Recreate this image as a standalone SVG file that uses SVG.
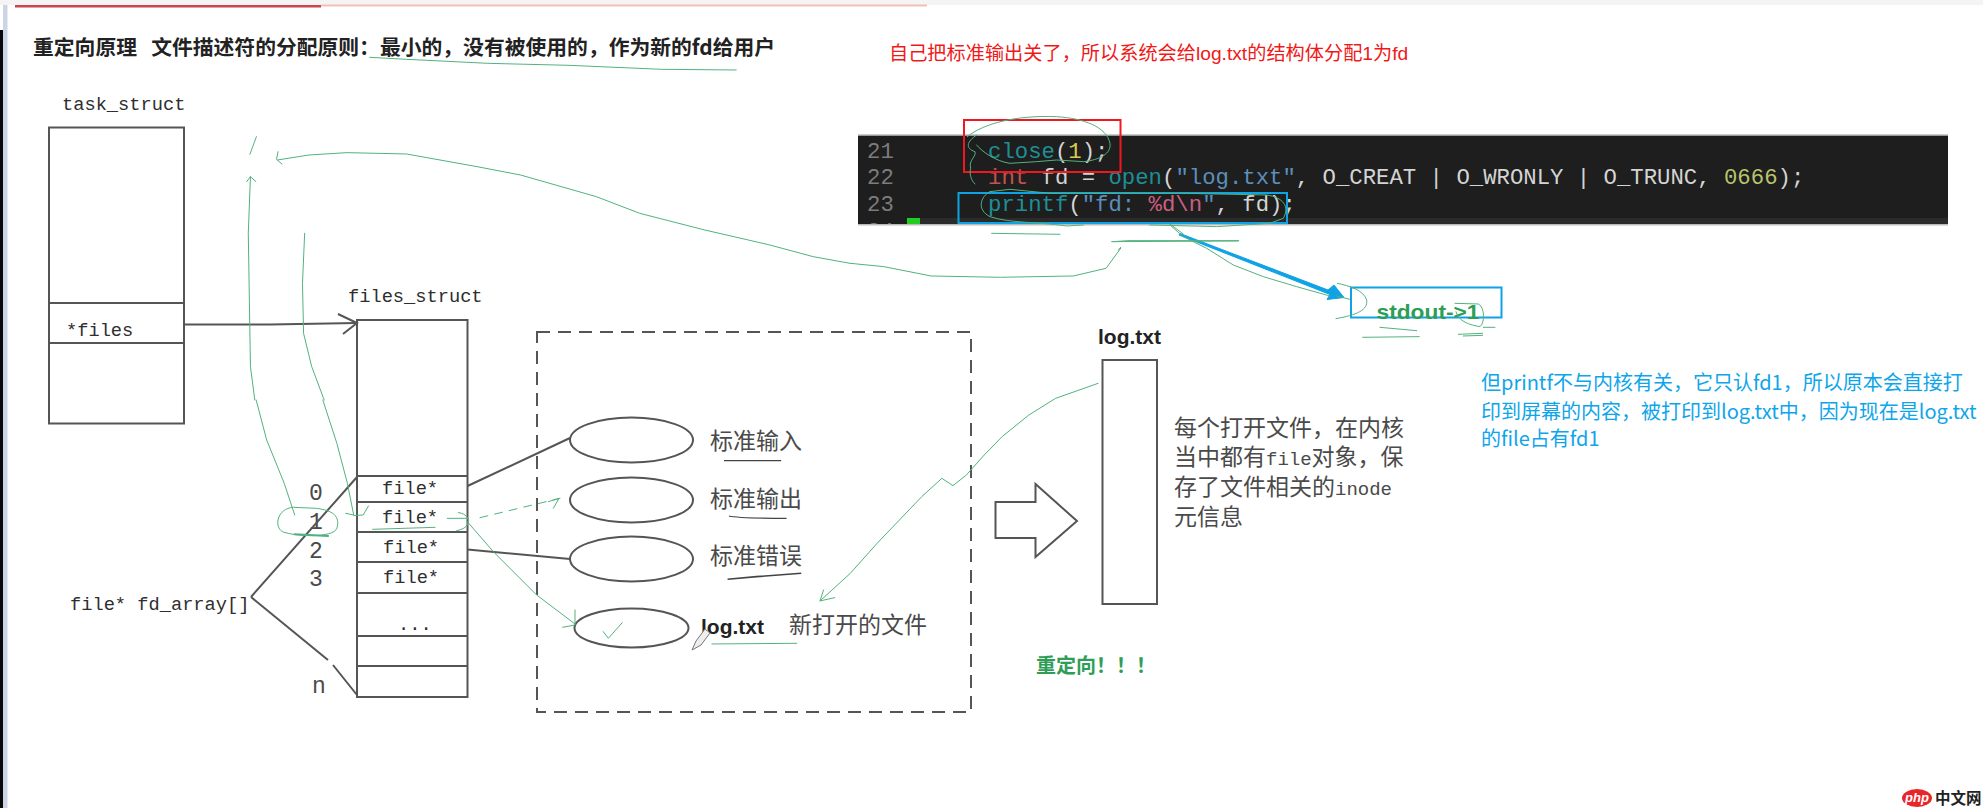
<svg xmlns="http://www.w3.org/2000/svg" width="1983" height="808" viewBox="0 0 1983 808">
<style>
text{font-family:"Liberation Sans","Noto Sans CJK SC",sans-serif}
.m{font-family:"Liberation Mono","Noto Sans CJK SC",monospace;font-size:18.7px;fill:#2e2e2e}
.c{font-family:"Noto Sans CJK SC",sans-serif;font-size:23px;fill:#4a4a4a}
.n{font-family:"Liberation Mono","Noto Sans CJK SC",monospace;font-size:23px;fill:#4a4a4a}
.cjk{font-family:"Noto Sans CJK SC",sans-serif}
.code{font-family:"Liberation Mono",monospace;font-size:22.3px;fill:#d4d4d4;white-space:pre}
.box{fill:#fff;stroke:#555;stroke-width:2}
.ln{fill:none;stroke:#555;stroke-width:2}
.pen{fill:none;stroke:#52b27e;stroke-width:1;vector-effect:non-scaling-stroke;stroke-linejoin:round;stroke-linecap:round}
.ink{fill:none;stroke:#444;stroke-width:1.2;vector-effect:non-scaling-stroke}
.teal{fill:#1f8f96}.yel{fill:#d8cb50}.red{fill:#c4524e}.str{fill:#5b8fbb}.pink{fill:#cc5f80}.num{fill:#b9c46c}.gut{fill:#7c7c7c}
</style>
<defs>
<clipPath id="codeclip"><rect x="858" y="135" width="1090" height="89"/></clipPath>
</defs>
<rect width="1983" height="808" fill="#fff"/>
<g id="chrome">
<rect x="0" y="0" width="1983" height="5" fill="#f4f4f4"/>
<rect x="321" y="4.500" width="606" height="2" fill="#f5bcbc"/>
<rect x="15" y="5" width="306" height="2.500" fill="#c9474a"/>
<rect x="0" y="30" width="3" height="778" fill="#0a0a0a"/>
<rect x="3" y="5" width="4.500" height="803" fill="#cdd5e5"/>
</g>
<g id="title"><text class="cjk" x="33" y="55" font-size="20.800" font-weight="700" fill="#222" style="white-space:pre">重定向原理   文件描述符的分配原则：最小的，没有被使用的，作为新的fd给用户</text></g>
<g id="note-red"><text x="889" y="60" font-size="19.200" fill="#f01818">自己把标准输出关了，所以系统会给log.txt的结构体分配1为fd</text></g>
<g id="task_struct">
<text class="m" x="62" y="110">task_struct</text>
<rect class="box" x="49" y="127.500" width="135" height="296"/>
<path class="ln" d="M49,303H184M49,343H184"/>
<text class="m" x="66" y="336">*files</text>
</g>
<g id="files_struct">
<text class="m" x="348" y="302">files_struct</text>
<rect class="box" x="357" y="320" width="110.500" height="377"/>
<path class="ln" d="M357,476H467M357,502H467M357,532H467M357,562H467M357,593H467M357,636H467M357,666H467"/>
<text class="m" x="382" y="494">file*</text>
<text class="m" x="382" y="523">file*</text>
<text class="m" x="383" y="553">file*</text>
<text class="m" x="383" y="583">file*</text>
<text class="m" x="398" y="630">...</text>
<text class="n" x="309" y="500">0</text>
<text class="n" x="309" y="529">1</text>
<text class="n" x="309" y="558">2</text>
<text class="n" x="309" y="586">3</text>
<text class="n" x="312" y="693">n</text>
<text class="m" x="70" y="610">file* fd_array[]</text>
</g>
<g id="open-files">
<rect x="537" y="332" width="434" height="380" fill="none" stroke="#555" stroke-width="2" stroke-dasharray="13 8"/>
<ellipse class="ln" cx="631.500" cy="440" rx="61.500" ry="22.500"/>
<ellipse class="ln" cx="631.500" cy="500" rx="61.500" ry="22.500"/>
<ellipse class="ln" cx="631.500" cy="559" rx="61.500" ry="22.500"/>
<ellipse class="ln" cx="631.500" cy="628" rx="57" ry="19.500"/>
<text class="c" x="710" y="449">标准输入</text>
<text class="c" x="710" y="507">标准输出</text>
<text class="c" x="710" y="564">标准错误</text>
<text x="701" y="634" font-size="21" font-weight="700" fill="#222">log.txt</text>
<text class="c" x="789" y="633">新打开的文件</text>
<path d="M696,641l-4,9l9,-5l9,-12l-5,-4z" fill="#eee" stroke="#777"/>
</g>
<g id="logfile">
<text x="1098" y="344" font-size="21" font-weight="700" fill="#222">log.txt</text>
<rect class="box" x="1102.500" y="360" width="54.500" height="244"/>
<text x="1174" y="436" class="c">每个打开文件，在内核</text>
<text x="1174" y="465" class="c">当中都有<tspan style="font-family:'Liberation Mono';font-size:19px">file</tspan>对象，保</text>
<text x="1174" y="495" class="c">存了文件相关的<tspan style="font-family:'Liberation Mono';font-size:19px">inode</tspan></text>
<text x="1174" y="525" class="c">元信息</text>
<path class="box" d="M995.500,502H1035.500V484L1077,521L1035.500,557V538H995.500Z"/>
<text class="cjk" x="1036" y="673" font-size="20" font-weight="700" fill="#2e9e57">重定向！！！</text>
</g>
<g id="code">
<rect x="858" y="135" width="1090" height="89" fill="#1e1e1e"/>
<rect x="920" y="218" width="1028" height="6" fill="#2b2b2b"/>
<rect x="858" y="134.500" width="1090" height="1.500" fill="#999"/>
<rect x="858" y="224" width="1090" height="1.500" fill="#bbb"/>
<rect x="907" y="218" width="13" height="6" fill="#22cc22"/>
<g clip-path="url(#codeclip)">
<text class="code gut" x="867" y="158">21</text>
<text class="code gut" x="867" y="184">22</text>
<text class="code gut" x="867" y="211">23</text>
<text class="code gut" x="867" y="238">24</text>
</g>
<text class="code" x="988" y="158"><tspan class="teal">close</tspan>(<tspan class="yel">1</tspan>);</text>
<text class="code" x="988" y="184"><tspan class="red">int</tspan> fd = <tspan class="teal">open</tspan>(<tspan class="str">"log.txt"</tspan>, O_CREAT | O_WRONLY | O_TRUNC, <tspan class="num">0666</tspan>);</text>
<text class="code" x="988" y="211"><tspan class="teal">printf</tspan>(<tspan class="str">"fd: </tspan><tspan class="pink">%d\n</tspan><tspan class="str">"</tspan>, fd);</text>
<rect x="964" y="120" width="156.500" height="52" fill="none" stroke="#f01820" stroke-width="2"/>
<rect x="958.500" y="193" width="328.500" height="30" fill="none" stroke="#0fa3e6" stroke-width="2"/>
</g>
<g id="stdout">
<rect x="1351" y="287.500" width="150.500" height="30" fill="none" stroke="#0fa3e6" stroke-width="2"/>
<text x="1376.500" y="319" font-size="21" font-weight="700" fill="#2e9e57" textLength="103" lengthAdjust="spacingAndGlyphs">stdout-&gt;1</text>
</g>
<g id="note-blue" font-size="20" fill="#0ea5ea">
<text class="cjk" x="1481" y="390">但printf不与内核有关，它只认fd1，所以原本会直接打</text>
<text class="cjk" x="1481" y="419">印到屏幕的内容，被打印到log.txt中，因为现在是log.txt</text>
<text class="cjk" x="1481" y="446">的file占有fd1</text>
</g>
<g id="connectors">
<path class="ln" d="M184,324.500H270L357,323"/>
<path class="ln" d="M338,314L357,323L343,334"/>
<path class="ln" d="M251,597L357,477M251,597L328,660M333,665L357,695"/>
<path class="ln" d="M467.500,486L570,438"/>
<path class="ln" d="M467.500,549.500L570,559"/>
<path d="M1180,233.500L1328,290L1334,285L1344,297.500L1327,299.500L1330,294.500L1179,235Z" fill="#0fa3e6" stroke="#0fa3e6" stroke-linejoin="round"/>
</g>
<g id="annotations">
<g transform="scale(.5421,.3333)">
<path class="pen" d="M682,172L750,178L900,190L1050,196L1220,208L1358,210"/>
<path class="pen" d="M473,410L461,463"/>
<path class="pen" d="M513,455L510,478L520,492M512,480L570,465L640,458L750,462L880,500L960,525L1100,590L1180,640L1300,690L1420,735L1500,770L1568,790"/>
<path class="pen" d="M455,545L462,530L472,545M462,530L458,700L460,900L462,1100L470,1200"/>
<path class="pen" d="M562,700L558,850L560,1000L575,1100L598,1200"/>
</g>
<g transform="translate(0,400) scale(.3509,.3333)">
<path class="pen" d="M730,0L760,120L810,250L840,345"/>
<path class="pen" d="M920,0L960,130L990,250L1008,345L985,340M1008,347L1035,345L1050,318"/>
<path class="pen" d="M835,322C790,325 780,380 805,395C840,410 950,415 960,385C970,350 950,330 900,325Z"/>
<path class="pen" style="stroke-width:2" d="M840,403L935,408"/>
<path class="pen" d="M1062,388L1240,382"/>
</g>
<g transform="translate(440,470) scale(.3333)">
<path class="pen" style="stroke-dasharray:8 7" d="M120,143L360,85"/>
<path class="pen" d="M325,95L357,85L340,115"/>
<path class="pen" d="M22,145L85,145M55,128C70,128 85,140 85,152C85,170 70,178 50,182"/>
<path class="pen" d="M82,155L160,245L290,375L405,462M405,420L405,465L368,472"/>
<path class="pen" d="M490,485L505,505L547,458"/>
</g>
<g transform="translate(520,320) scale(.4464,.3333)">
<path class="pen" d="M1295,190L1200,235L1140,285L1080,350L1040,405L1000,465L970,497L945,475L900,530L850,600L800,670L740,760L672,843M705,833L672,843L680,810"/>
<path class="pen" d="M430,972L620,970"/>
<path class="ink" d="M457,422L585,422"/>
<path class="ink" d="M468,588C490,595 540,595 597,595"/>
<path class="ink" style="stroke-width:1.600" d="M465,778L530,770L630,760"/>
</g>
<g transform="translate(840,0) scale(.729,.3333)">
<path class="pen" d="M14,790L60,800L125,828L220,832L320,828L365,805L385,745M375,725L395,722L547,722"/>
</g>
<g transform="translate(850,110) scale(.3333)">
<path class="pen" d="M380,75C350,95 345,115 375,125C380,140 355,150 362,175C358,190 362,210 375,222"/>
<path class="pen" d="M352,80C400,40 500,15 620,20C700,25 770,50 780,100C785,130 750,150 700,155L620,150L560,155L480,160C440,155 395,125 380,105"/>
<path class="pen" d="M420,245C390,260 380,300 420,320C480,340 560,335 650,348L700,345"/>
<path class="pen" d="M420,245L480,238L600,250L1000,250L1250,255C1300,262 1320,290 1300,325L1260,340L1100,350L900,345"/>
<path class="pen" d="M425,370L630,373M785,395L1165,393M805,420L812,412M960,342L1000,372"/>
</g>
<g transform="translate(1150,210) scale(.3333)">
<path class="pen" d="M60,45L100,80L170,115L250,165L340,200L440,230L540,258"/>
<path class="pen" d="M562,220C600,228 640,240 650,270C655,300 620,315 558,326M560,258L600,268"/>
<path class="pen" d="M915,280L985,282C1005,290 1005,340 990,350C960,345 925,335 918,305M1000,352L1035,352M925,373L998,370M940,378L998,376"/>
<path class="pen" d="M690,352L800,362M638,382L808,380"/>
</g>
</g>
<g id="logo">
<ellipse cx="1917" cy="798" rx="15" ry="9" fill="#e8262a"/>
<text x="1917" y="802" font-size="13" font-weight="700" font-style="italic" fill="#fff" text-anchor="middle">php</text>
<text class="cjk" x="1935" y="804" font-size="15.500" font-weight="700" fill="#222">中文网</text>
</g>
</svg>
